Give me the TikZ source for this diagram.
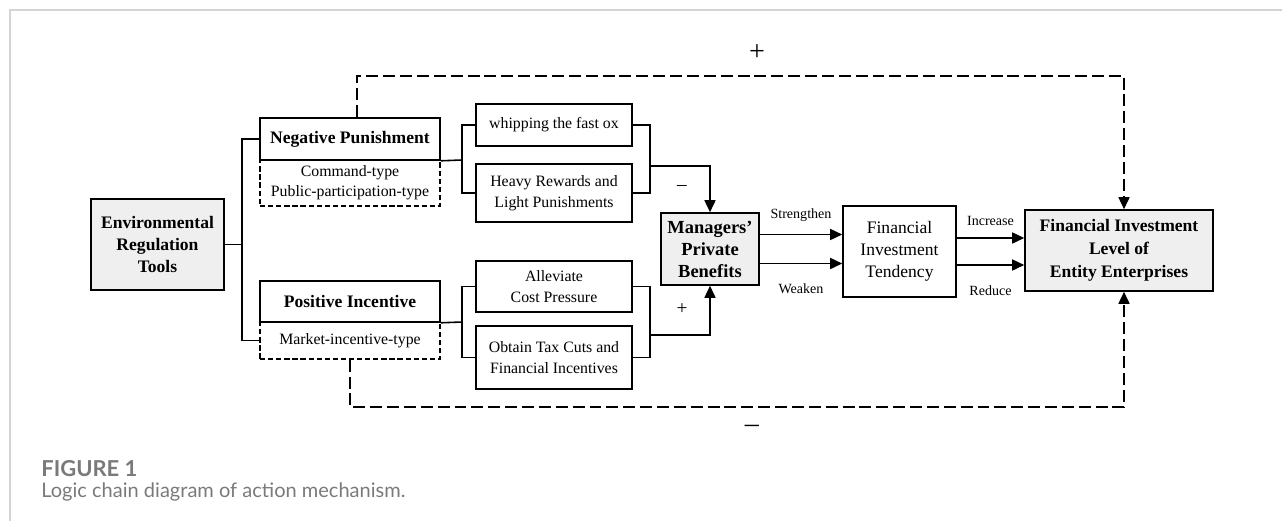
\documentclass[tikz,border=0pt]{standalone}
\usepackage{fontspec}
\setmainfont{Liberation Serif}
\newfontfamily\capfont{Lato}
\usetikzlibrary{arrows.meta,positioning,calc}
\definecolor{boxgray}{HTML}{EFEFEF}
\definecolor{framegray}{HTML}{D4D4D4}
\definecolor{capgray}{HTML}{7A7A7A}

\begin{document}
\begin{tikzpicture}[
  box/.style={rectangle, draw=black, line width=0.9pt, fill=#1, inner sep=2pt, align=center,
              font=\fontsize{9}{12}\selectfont},
  box/.default=white,
  core/.style={box=boxgray, font=\fontsize{10}{12.5}\selectfont\bfseries},
  head/.style={box, font=\fontsize{10}{12}\selectfont\bfseries, minimum width=3.6cm},
  way/.style={box, minimum width=3.12cm},
  subbox/.style={rectangle, draw=black, line width=0.8pt, dash pattern=on 3pt off 1.6pt,
                 fill=white, align=center, font=\fontsize{9}{11.5}\selectfont, inner sep=1pt,
                 minimum width=3.6cm},
  conn/.style={line width=0.9pt},
  arr/.style={-{Triangle[length=2.4mm,width=2.2mm]}, line width=0.9pt},
  fbarr/.style={arr, dash pattern=on 6.8pt off 2.8pt},
  lab/.style={font=\fontsize{8}{9}\selectfont},
  sign/.style={font=\fontsize{16}{16}\selectfont},
  small sign/.style={font=\fontsize{11}{11}\selectfont},
]
\useasboundingbox (0,0) rectangle (25.64,-10.42);
% ---------- page frame ----------
\draw[framegray, line width=1.1pt] (0.2,-10.42) -- (0.2,-0.2) -- (25.64,-0.2);

% ---------- column 0: tools ----------
\node[core, minimum width=2.66cm, minimum height=1.82cm] (env) at (3.15,-4.89) {Environmental\\Regulation\\Tools};
% ---------- column 1: punishment / incentive ----------
\node[subbox, minimum height=0.92cm] (negsub) at (7.0,-3.66) {Command-type\\Public-participation-type};
\node[head, minimum height=0.84cm] (neg) at (7.0,-2.78) {Negative Punishment};
\node[subbox, minimum height=0.74cm] (possub) at (7.0,-6.81) {Market-incentive-type};
\node[head, minimum height=0.82cm] (pos) at (7.0,-6.03) {Positive Incentive};
% ---------- column 2: channels ----------
\node[way, minimum height=0.84cm] (whip)   at (11.08,-2.5)  {whipping the fast ox};
\node[way, minimum height=1.16cm] (heavy)  at (11.08,-3.86) {Heavy Rewards and\\Light Punishments};
\node[way, minimum height=1.02cm] (allev)  at (11.08,-5.73) {Alleviate\\Cost Pressure};
\node[way, minimum height=1.26cm] (obtain) at (11.08,-7.15) {Obtain Tax Cuts and\\Financial Incentives};
% ---------- column 3: benefits, tendency, level ----------
\node[core, font=\fontsize{10.5}{12.5}\selectfont\bfseries, minimum width=1.96cm, minimum height=1.44cm] (mgr) at (14.2,-4.98) {Managers'\\Private\\Benefits};
\node[box, font=\fontsize{10}{12.5}\selectfont, minimum width=2.26cm, minimum height=1.82cm] (tend) at (17.99,-5.03) {Financial\\Investment\\Tendency};
\node[core, font=\fontsize{10}{13}\selectfont\bfseries, minimum width=3.76cm, minimum height=1.62cm] (fin) at (22.38,-5.01) {Financial Investment\\Level of\\Entity Enterprises};

% ---------- brackets ----------
\coordinate (spl) at (4.84,-4.89);
\draw[conn] (env.east) -- (spl);
\draw[conn] (neg.west) -| (spl) |- (possub.west);
\coordinate (nsp) at (9.24,-3.2);
\draw[conn] (neg.south east) -- (nsp);
\draw[conn] (whip.west) -| (nsp) |- (heavy.west);
\coordinate (psp) at (9.24,-6.44);
\draw[conn] (pos.south east) -- (psp);
\draw[conn] (allev.west) -| (psp) |- (obtain.west);
\coordinate (nmg) at (13.0,-3.32);
\draw[conn] (whip.east) -| (nmg) |- (heavy.east);
\draw[arr] (nmg) -| (mgr.north);
\coordinate (pmg) at (13.0,-6.7);
\draw[conn] (allev.east) -| (pmg) |- (obtain.east);
\draw[arr] (pmg) -| (mgr.south);
\node[small sign] (neg sign) at (13.64,-3.76) {–};
\node[small sign] (pos sign) at (13.64,-6.18) {+};

% ---------- arrows ----------
\draw[arr] ([yshift=0.29cm]mgr.east) -- node[above=3.5pt, lab]{Strengthen} ([yshift=0.29cm]mgr.east -| tend.west);
\draw[arr] ([yshift=-0.29cm]mgr.east) -- node[below=8pt, lab]{Weaken} ([yshift=-0.29cm]mgr.east -| tend.west);
\draw[arr] ([yshift=0.27cm]tend.east) -- node[above=3.5pt, lab]{Increase} ([yshift=0.27cm]tend.east -| fin.west);
\draw[arr] ([yshift=-0.27cm]tend.east) -- node[below=8pt, lab]{Reduce} ([yshift=-0.27cm]tend.east -| fin.west);

% ---------- direct effects ----------
\coordinate (topc) at (22.48,-1.52);
\draw[fbarr] ([xshift=0.14cm]neg.north) |- (topc) -- (topc |- fin.north);
\coordinate (botc) at (22.48,-8.14);
\draw[fbarr] (possub.south) |- (botc) -- (botc |- fin.south);
\node[sign] (plus)  at (15.14,-1.06) {+};
\node[sign] (minus) at (15.04,-8.58) {–};

% ---------- caption ----------
\node[anchor=west, inner sep=0, text=capgray, font=\capfont\bfseries\fontsize{12.5}{14}\selectfont] (fig) at (0.82,-9.38) {FIGURE 1};
\node[anchor=west, inner sep=0, text=capgray, font=\capfont\fontsize{11.4}{13}\selectfont] (cap) at (0.82,-9.83) {Logic chain diagram of action mechanism.};
\end{tikzpicture}
\end{document}
